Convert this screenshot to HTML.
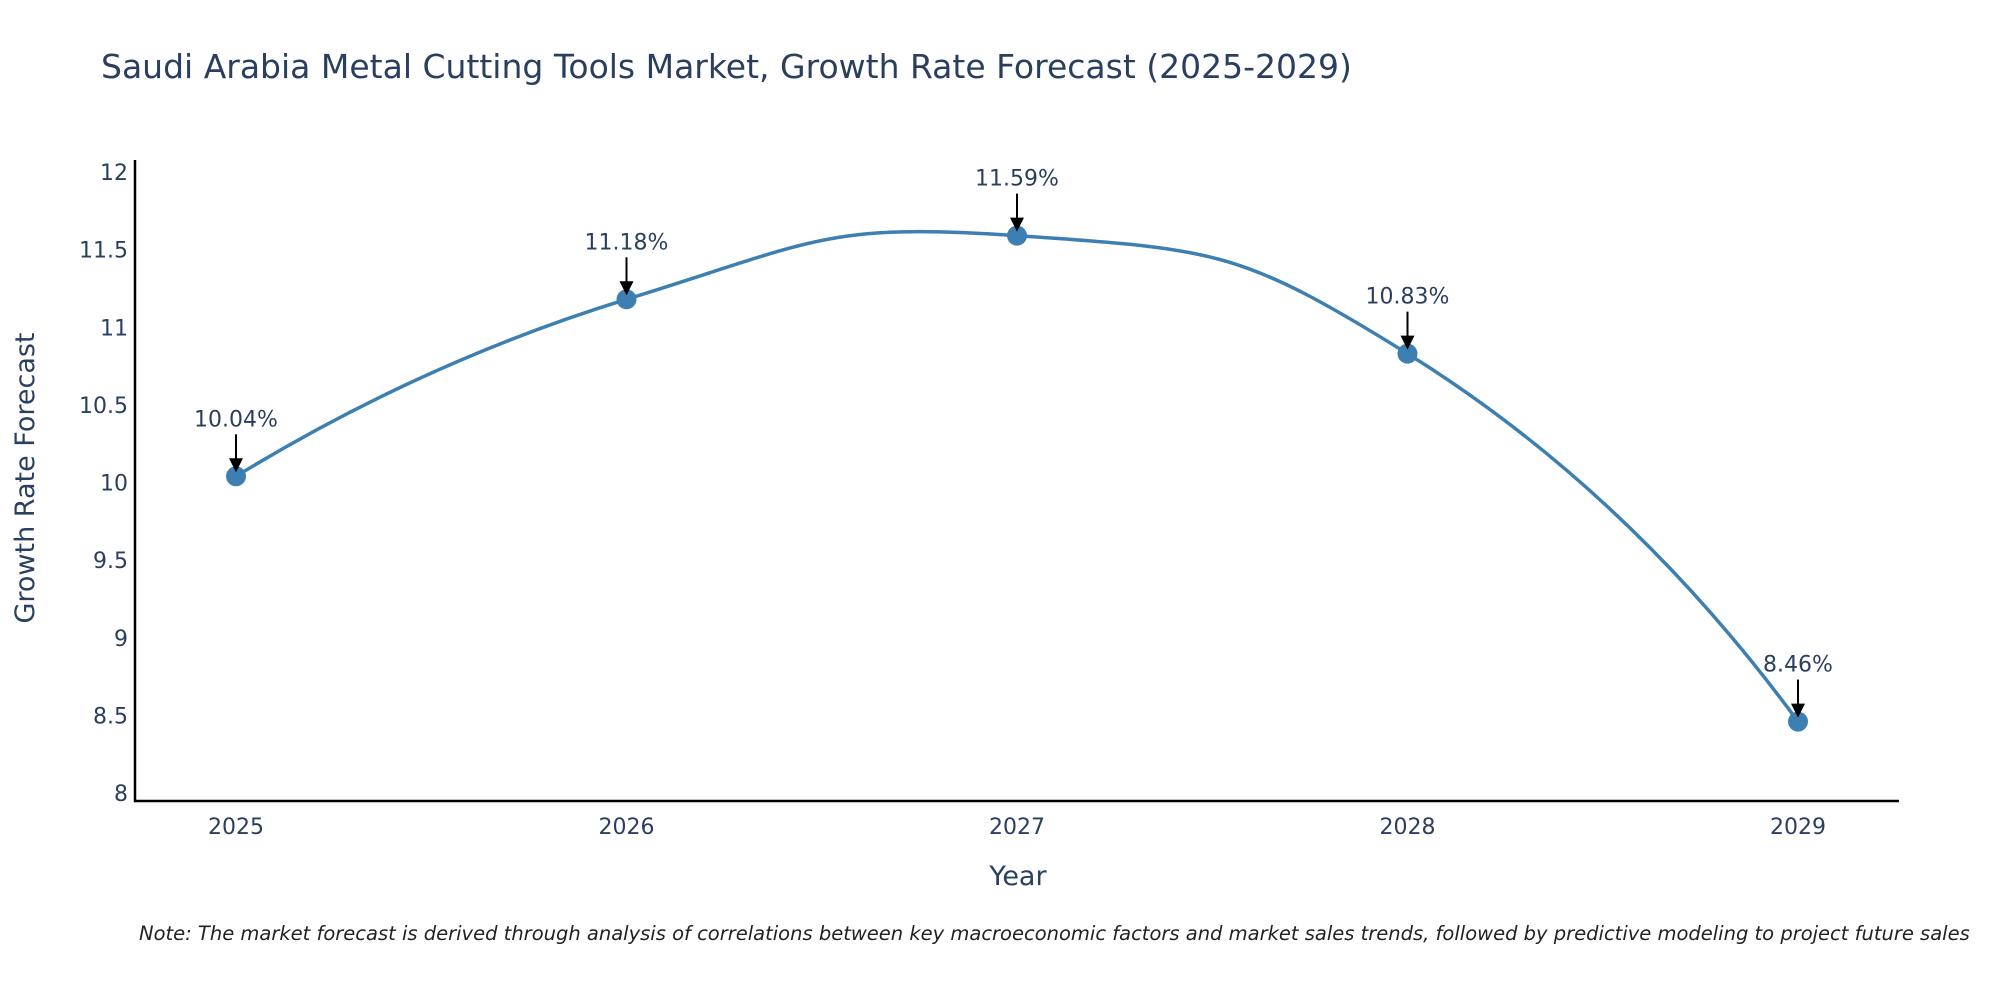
<!DOCTYPE html>
<html><head><meta charset="utf-8"><style>
body{margin:0;background:#fff;}
svg{display:block;font-family:"DejaVu Sans","Liberation Sans",sans-serif;}
</style></head><body>
<svg id="chart" width="2000" height="1000" viewBox="0 0 2000 1000">
<text x="101" y="78" font-size="33" fill="#2a3f5f">Saudi Arabia Metal Cutting Tools Market, Growth Rate Forecast (2025-2029)</text>
<g id="yticks"></g>
<g id="xticks"></g>
<line x1="135" y1="160" x2="135" y2="802" stroke="#000" stroke-width="2.5"/>
<line x1="134" y1="801" x2="1899" y2="801" stroke="#000" stroke-width="2.5"/>
<path id="line" fill="none" stroke="#3d7fb0" stroke-width="3.5"/>
<g id="points"></g>
<g id="annots"></g>
<text transform="translate(34,478) rotate(-90)" text-anchor="middle" font-size="27" fill="#2a3f5f">Growth Rate Forecast</text>
<text x="1018" y="885" text-anchor="middle" font-size="27" fill="#2a3f5f">Year</text>
<text x="139" y="940" font-size="19.5" font-style="italic" fill="#222">Note: The market forecast is derived through analysis of correlations between key macroeconomic factors and market sales trends, followed by predictive modeling to project future sales</text>
</svg>
<script>
const years = ["2025","2026","2027","2028","2029"];
const values = [10.04, 11.18, 11.59, 10.83, 8.46];
const labels = ["10.04%","11.18%","11.59%","10.83%","8.46%"];
const yTicks = [8, 8.5, 9, 9.5, 10, 10.5, 11, 11.5, 12];
const NS = "http://www.w3.org/2000/svg";
function xs(i){ return 236 + i * (1798 - 236) / 4; }
function ys(v){ return 793 - (v - 8) * (793 - 172) / 4; }
function mk(tag, attrs, parent, txt){
  const e = document.createElementNS(NS, tag);
  for (const k in attrs) e.setAttribute(k, attrs[k]);
  if (txt !== undefined) e.textContent = txt;
  parent.appendChild(e); return e;
}
const yg = document.getElementById('yticks');
yTicks.forEach(t => {
  const e = mk('text', {x:128, y:ys(t)+8, 'text-anchor':'end', 'font-size':22, fill:'#2a3f5f'}, yg, String(t));
  
  
});
const xg = document.getElementById('xticks');
years.forEach((y, i) => {
  const e = mk('text', {x:xs(i), y:834, 'text-anchor':'middle', 'font-size':22, fill:'#2a3f5f'}, xg, y);
  
  
});
const pts = values.map((v, i) => [xs(i), ys(v)]);
// tangent-based spline (plotly-like)
const n = pts.length;
const cin = [], cout = [];
for (let i = 1; i < n - 1; i++) {
  const p0 = pts[i-1], p1 = pts[i], p2 = pts[i+1];
  const d1 = Math.hypot(p1[0]-p0[0], p1[1]-p0[1]);
  const d2 = Math.hypot(p2[0]-p1[0], p2[1]-p1[1]);
  const tx = p2[0]-p0[0], ty = p2[1]-p0[1];
  const k = 0.5;
  const f1 = k * d1 / (d1 + d2), f2 = k * d2 / (d1 + d2);
  cin[i] = [p1[0] - tx*f1, p1[1] - ty*f1];
  cout[i] = [p1[0] + tx*f2, p1[1] + ty*f2];
}
let d = `M${pts[0][0]},${pts[0][1]}`;
for (let i = 0; i < n - 1; i++) {
  const p1 = pts[i], p2 = pts[i+1];
  if (i === 0) {
    const c = cin[1];
    d += ` Q${c[0]},${c[1]} ${p2[0]},${p2[1]}`;
  } else if (i === n - 2) {
    const c = cout[i];
    d += ` Q${c[0]},${c[1]} ${p2[0]},${p2[1]}`;
  } else {
    d += ` C${cout[i][0]},${cout[i][1]} ${cin[i+1][0]},${cin[i+1][1]} ${p2[0]},${p2[1]}`;
  }
}
document.getElementById('line').setAttribute('d', d);
const pg = document.getElementById('points');
const ag = document.getElementById('annots');
pts.forEach((p, i) => {
  const c = mk('circle', {cx:p[0], cy:p[1], r:10, fill:'#3d7fb0'}, pg);
  
  
  const l = mk('line', {x1:p[0], y1:p[1]-42, x2:p[0], y2:p[1]-16, stroke:'#000', 'stroke-width':2}, ag);
  
  
  const h = mk('polygon', {points:`${p[0]-7},${p[1]-18} ${p[0]+7},${p[1]-18} ${p[0]},${p[1]-4}`, fill:'#000'}, ag);
  
  
  const t = mk('text', {x:p[0], y:p[1]-50, 'text-anchor':'middle', 'font-size':22, fill:'#2a3f5f'}, ag, labels[i]);
  
  
});
</script>
</body></html>
